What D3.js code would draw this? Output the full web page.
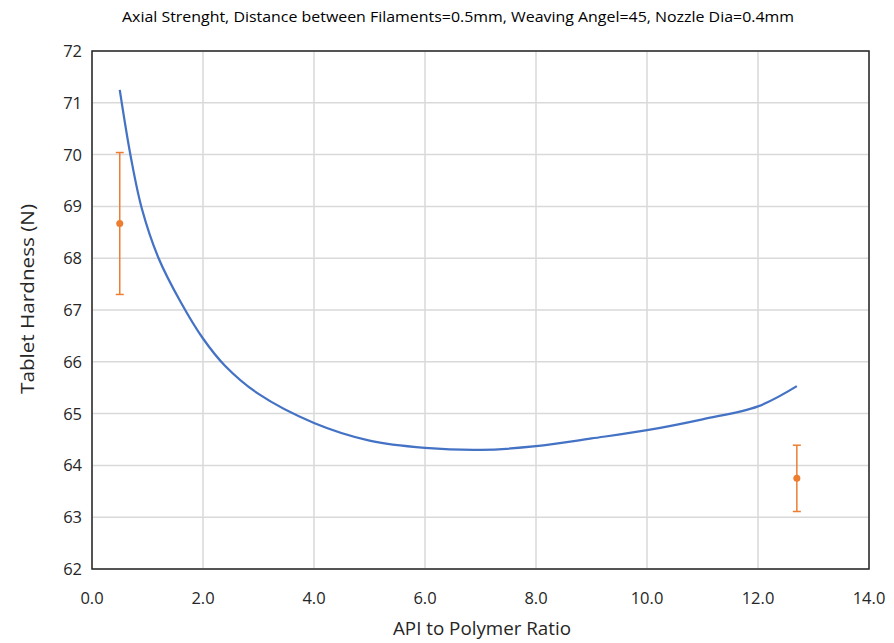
<!DOCTYPE html>
<html>
<head>
<meta charset="utf-8">
<script src="https://cdn.jsdelivr.net/npm/d3@7"></script>
<style>
  body { margin: 0; background: #fff; }
  text { font-family: "Open Sans", sans-serif; fill: #262626; }
</style>
</head>
<body>
<div id="chart"></div>
<script>
// fitted curve
var curveX = [0.5, 0.7, 0.9, 1.2, 1.6, 2.0, 2.4, 3.0, 4.0, 5.0, 6.0, 7.0, 8.0, 9.0, 10.0, 11.0, 12.0, 12.7];
var curveY = [71.25, 69.95, 68.95, 68.0, 67.15, 66.45, 65.92, 65.38, 64.82, 64.48, 64.34, 64.30, 64.37, 64.52, 64.68, 64.89, 65.14, 65.53];
// measured points with error bars
var pointX = [0.5, 12.7];
var pointY = [68.67, 63.75];
var pointErr = [1.37, 0.64];
var xTicks = [0, 2, 4, 6, 8, 10, 12, 14];
var yTicks = [62, 63, 64, 65, 66, 67, 68, 69, 70, 71, 72];

var width = 894, height = 643;
var margin = {top: 51, right: 25, bottom: 74, left: 92};

var svg = d3.select("#chart").append("svg")
    .attr("width", width)
    .attr("height", height);

var x = d3.scaleLinear().domain([0, 14]).range([margin.left, width - margin.right]);
var y = d3.scaleLinear().domain([62, 72]).range([height - margin.bottom, margin.top]);

// grid
svg.append("g").selectAll("line")
    .data(xTicks)
  .enter().append("line")
    .attr("x1", d => x(d)).attr("x2", d => x(d))
    .attr("y1", y(62)).attr("y2", y(72))
    .attr("stroke", "#d9d9d9").attr("stroke-width", 1.5);

svg.append("g").selectAll("line")
    .data(yTicks)
  .enter().append("line")
    .attr("x1", x(0)).attr("x2", x(14))
    .attr("y1", d => y(d)).attr("y2", d => y(d))
    .attr("stroke", "#d9d9d9").attr("stroke-width", 1.5);

// frame
svg.append("rect")
    .attr("x", x(0)).attr("y", y(72))
    .attr("width", x(14) - x(0))
    .attr("height", y(62) - y(72))
    .attr("fill", "none")
    .attr("stroke", "#262626")
    .attr("stroke-width", 1.5);

// tick labels
svg.append("g").selectAll("text")
    .data(xTicks)
  .enter().append("text")
    .attr("x", d => x(d))
    .attr("y", y(62) + 35)
    .attr("text-anchor", "middle")
    .attr("font-size", 16.5)
    .text(d => d.toFixed(1));

svg.append("g").selectAll("text")
    .data(yTicks)
  .enter().append("text")
    .attr("x", x(0) - 10)
    .attr("y", d => y(d) + 6)
    .attr("text-anchor", "end")
    .attr("font-size", 16.5)
    .text(d => d);

// fitted line
var pts = curveX.map((d, i) => [d, curveY[i]]);
var line = d3.line()
    .x(d => x(d[0]))
    .y(d => y(d[1]))
    .curve(d3.curveCatmullRom.alpha(0.5));

svg.append("path")
    .datum(pts)
    .attr("d", line)
    .attr("fill", "none")
    .attr("stroke", "#4472c4")
    .attr("stroke-width", 2.25);

// error bars
var eb = svg.append("g").selectAll("g")
    .data(pointX.map((d, i) => ({x: d, y: pointY[i], e: pointErr[i]})))
  .enter().append("g");

eb.append("line")
    .attr("x1", d => x(d.x)).attr("x2", d => x(d.x))
    .attr("y1", d => y(d.y + d.e)).attr("y2", d => y(d.y - d.e))
    .attr("stroke", "#ed7d31").attr("stroke-width", 1.5);
eb.append("line")
    .attr("x1", d => x(d.x) - 4).attr("x2", d => x(d.x) + 4)
    .attr("y1", d => y(d.y + d.e)).attr("y2", d => y(d.y + d.e))
    .attr("stroke", "#ed7d31").attr("stroke-width", 1.5);
eb.append("line")
    .attr("x1", d => x(d.x) - 4).attr("x2", d => x(d.x) + 4)
    .attr("y1", d => y(d.y - d.e)).attr("y2", d => y(d.y - d.e))
    .attr("stroke", "#ed7d31").attr("stroke-width", 1.5);
eb.append("circle")
    .attr("cx", d => x(d.x)).attr("cy", d => y(d.y))
    .attr("r", 3.5)
    .attr("fill", "#ed7d31");

// titles
svg.append("text")
    .attr("x", 458).attr("y", 22)
    .attr("text-anchor", "middle")
    .attr("font-size", 14.5)
    .attr("textLength", 672)
    .attr("lengthAdjust", "spacingAndGlyphs")
    .style("fill", "#000")
    .text("Axial Strenght, Distance between Filaments=0.5mm, Weaving Angel=45, Nozzle Dia=0.4mm");

svg.append("text")
    .attr("x", 482)
    .attr("y", 635)
    .attr("text-anchor", "middle")
    .attr("font-size", 17.5)
    .attr("textLength", 178)
    .attr("lengthAdjust", "spacingAndGlyphs")
    .text("API to Polymer Ratio");

svg.append("text")
    .attr("transform", "translate(34,299) rotate(-90)")
    .attr("text-anchor", "middle")
    .attr("font-size", 17.5)
    .attr("textLength", 190)
    .attr("lengthAdjust", "spacingAndGlyphs")
    .text("Tablet Hardness (N)");
</script>
</body>
</html>
